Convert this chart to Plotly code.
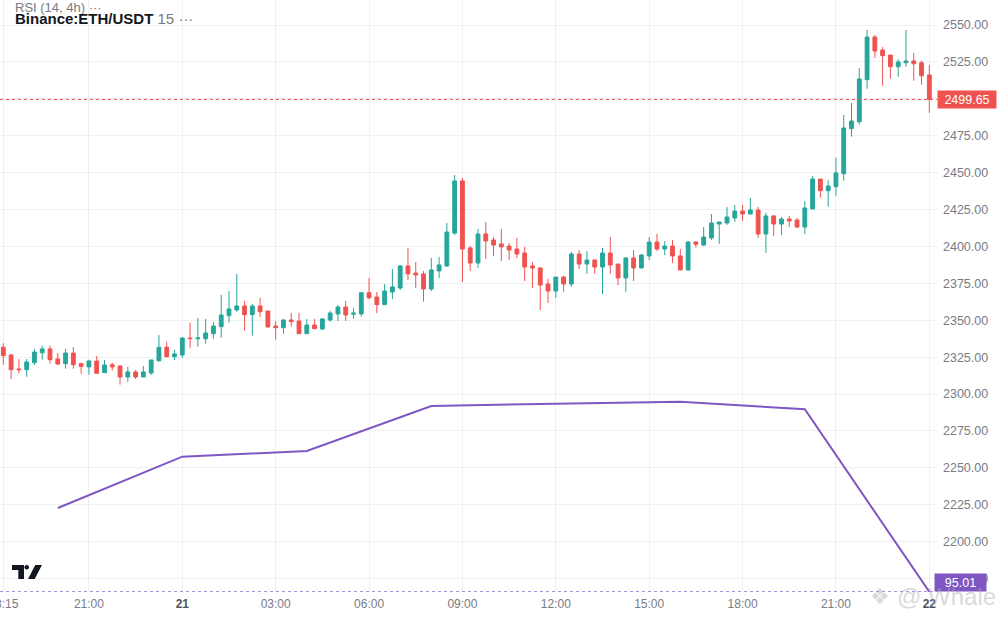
import pandas as pd
import plotly.graph_objects as go

# 15 minute candles, Binance ETH/USDT, 20th 18:15 -> 22nd 00:00
opens = [2331.7, 2326.5, 2317.0, 2316.5, 2321.3, 2328.0, 2330.6, 2323.8, 2320.6, 2327.8,
         2320.6, 2318.4, 2322.4, 2314.5, 2319.9, 2319.0, 2311.6, 2315.0, 2311.6, 2314.3,
         2322.6, 2331.7, 2325.3, 2326.5, 2338.0, 2337.5, 2337.5, 2340.9, 2345.7, 2353.1,
         2357.0, 2359.7, 2353.8, 2359.7, 2356.3, 2346.1, 2345.0, 2350.2, 2349.5, 2340.9,
         2346.8, 2344.1, 2350.2, 2354.3, 2359.0, 2354.1, 2354.3, 2368.7, 2365.8, 2360.6,
         2369.2, 2371.9, 2386.8, 2382.0, 2381.4, 2371.2, 2383.4, 2386.8, 2409.1, 2444.4,
         2399.0, 2388.8, 2408.5, 2404.4, 2401.7, 2400.3, 2398.3, 2395.6, 2386.8, 2385.4,
         2374.6, 2369.8, 2379.3, 2374.6, 2394.9, 2388.1, 2390.8, 2386.1, 2395.6, 2388.1,
         2378.7, 2392.2, 2385.4, 2393.6, 2403.0, 2398.3, 2400.3, 2393.6, 2384.1, 2403.0,
         2401.0, 2405.8, 2415.2, 2415.9, 2419.3, 2424.0, 2422.0, 2424.7, 2408.5, 2420.7,
         2415.2, 2418.6, 2417.9, 2413.2, 2425.4, 2445.7, 2437.8, 2440.5, 2449.3, 2479.8,
         2484.5, 2513.0, 2541.9, 2533.1, 2529.7, 2521.8, 2524.5, 2525.7, 2524.5, 2516.2]
highs = [2334.4, 2327.2, 2323.6, 2323.8, 2330.6, 2332.8, 2332.8, 2327.8, 2330.6, 2331.9,
         2321.3, 2323.3, 2325.8, 2323.1, 2321.3, 2319.7, 2318.4, 2316.3, 2319.0, 2323.1,
         2340.0, 2335.5, 2329.9, 2338.5, 2348.4, 2351.6, 2350.9, 2348.8, 2367.3, 2369.8,
         2381.4, 2363.1, 2361.0, 2365.1, 2356.3, 2349.5, 2350.7, 2355.1, 2355.1, 2350.9,
         2350.9, 2351.6, 2356.3, 2360.4, 2363.1, 2358.3, 2368.7, 2378.7, 2369.2, 2374.6,
         2384.8, 2387.5, 2399.0, 2389.5, 2383.4, 2392.2, 2392.9, 2415.9, 2448.4, 2446.4,
         2400.3, 2411.9, 2416.6, 2406.4, 2411.9, 2402.4, 2405.8, 2399.7, 2389.5, 2386.1,
         2378.0, 2379.3, 2380.0, 2396.3, 2397.6, 2396.9, 2391.5, 2399.0, 2406.4, 2388.1,
         2392.9, 2397.6, 2394.9, 2406.4, 2408.5, 2403.7, 2404.4, 2398.3, 2403.7, 2403.7,
         2413.2, 2422.0, 2416.6, 2426.8, 2428.1, 2428.1, 2432.9, 2426.8, 2422.7, 2421.3,
         2420.0, 2420.7, 2419.3, 2430.8, 2447.8, 2445.7, 2445.0, 2460.2, 2489.1, 2497.2,
         2520.9, 2546.7, 2543.3, 2535.2, 2529.7, 2527.0, 2546.7, 2531.1, 2525.9, 2523.0]
lows = [2319.9, 2310.2, 2313.8, 2311.8, 2319.7, 2323.3, 2320.6, 2319.7, 2317.2, 2317.2,
        2313.8, 2313.1, 2313.8, 2314.5, 2316.1, 2306.4, 2308.2, 2310.2, 2311.6, 2312.9,
        2322.0, 2324.9, 2323.1, 2324.5, 2331.4, 2332.1, 2334.1, 2337.5, 2338.2, 2348.4,
        2355.8, 2343.0, 2339.6, 2352.4, 2344.8, 2336.9, 2340.9, 2345.7, 2340.9, 2340.9,
        2344.3, 2343.6, 2349.0, 2349.5, 2349.5, 2350.9, 2352.4, 2364.0, 2354.9, 2360.6,
        2364.4, 2370.5, 2377.3, 2371.9, 2362.6, 2369.8, 2378.7, 2386.1, 2407.8, 2375.9,
        2383.4, 2385.4, 2391.5, 2393.6, 2390.2, 2390.8, 2392.2, 2376.6, 2371.9, 2357.0,
        2361.7, 2365.1, 2369.2, 2372.6, 2384.8, 2381.4, 2381.4, 2367.8, 2381.4, 2373.9,
        2369.2, 2376.6, 2385.4, 2390.8, 2396.9, 2394.2, 2388.8, 2384.1, 2383.4, 2399.2,
        2400.3, 2404.4, 2401.7, 2414.6, 2416.6, 2417.3, 2422.0, 2405.8, 2395.6, 2407.1,
        2407.8, 2413.2, 2412.5, 2408.5, 2425.4, 2433.1, 2427.0, 2434.4, 2444.6, 2474.4,
        2482.5, 2506.9, 2527.7, 2508.9, 2513.7, 2515.0, 2521.8, 2512.3, 2509.6, 2490.6]
closes = [2326.0, 2316.5, 2316.5, 2321.7, 2328.5, 2330.6, 2323.3, 2320.4, 2327.8, 2319.9,
          2318.8, 2322.4, 2314.1, 2319.7, 2318.4, 2311.6, 2315.0, 2311.6, 2315.0, 2323.1,
          2331.7, 2325.3, 2327.2, 2338.0, 2337.6, 2338.0, 2341.4, 2346.1, 2353.6, 2357.7,
          2359.7, 2353.8, 2359.7, 2355.8, 2345.5, 2345.0, 2350.2, 2349.1, 2340.9, 2346.8,
          2344.3, 2350.9, 2354.9, 2359.0, 2353.6, 2354.9, 2368.7, 2365.3, 2360.6, 2369.8,
          2372.6, 2386.8, 2381.4, 2380.7, 2371.2, 2384.1, 2387.5, 2409.8, 2444.4, 2398.3,
          2388.8, 2408.5, 2403.7, 2401.0, 2399.7, 2397.6, 2394.9, 2386.1, 2385.4, 2373.9,
          2369.8, 2379.3, 2374.6, 2394.9, 2388.1, 2390.8, 2386.1, 2395.6, 2387.5, 2378.7,
          2392.2, 2385.4, 2394.2, 2403.0, 2398.3, 2400.3, 2393.6, 2384.1, 2403.0, 2401.5,
          2406.4, 2415.9, 2416.6, 2420.0, 2424.0, 2422.0, 2424.7, 2408.5, 2420.7, 2415.2,
          2418.6, 2417.3, 2413.2, 2426.1, 2445.7, 2437.8, 2441.0, 2449.8, 2480.3, 2485.0,
          2513.5, 2541.9, 2532.4, 2529.3, 2521.8, 2525.0, 2525.7, 2523.8, 2515.7, 2499.65]

# RSI (14, 4h) overlay, drawn on the price scale as in the screenshot
rsi_times = ["2024-08-20 20:00", "2024-08-21 00:00", "2024-08-21 04:00", "2024-08-21 08:00",
             "2024-08-21 12:00", "2024-08-21 16:00", "2024-08-21 20:00", "2024-08-22 00:00"]
rsi_line = [2222.8, 2257.6, 2261.4, 2291.9, 2293.5, 2294.8, 2289.7, 2166.0]
rsi_last = "95.01"

tick_times = ["2024-08-20 18:15", "2024-08-20 21:00", "2024-08-21 00:00", "2024-08-21 03:00",
              "2024-08-21 06:00", "2024-08-21 09:00", "2024-08-21 12:00", "2024-08-21 15:00",
              "2024-08-21 18:00", "2024-08-21 21:00", "2024-08-22 00:00"]
tick_text = ["18:15", "21:00", "<b style='color:#50535e'>21</b>", "03:00", "06:00", "09:00",
             "12:00", "15:00", "18:00", "21:00", "<b style='color:#50535e'>22</b>"]

GREEN = "#26a69a"
RED = "#ef5350"
PURPLE = "#7e57c2"
GRID = "#eff0f3"
FONT = "Liberation Sans, Arial, sans-serif"

PLOT_W, PLOT_H = 937, 592   # plot area in pixels


def px(x, y):
    # pixel position inside the plot area -> paper coords
    return "%.5f,%.5f" % (x / PLOT_W, 1 - y / PLOT_H)


def main():
    times = pd.date_range("2024-08-20 18:15", periods=len(closes), freq="15min")

    fig = go.Figure()
    fig.add_trace(go.Candlestick(
        x=times, open=opens, high=highs, low=lows, close=closes,
        increasing=dict(line=dict(color=GREEN, width=1), fillcolor=GREEN),
        decreasing=dict(line=dict(color=RED, width=1), fillcolor=RED),
        whiskerwidth=0, showlegend=False, hoverinfo="skip"))
    fig.add_trace(go.Scatter(x=pd.to_datetime(rsi_times), y=rsi_line, mode="lines",
                             line=dict(color=PURPLE, width=2), showlegend=False,
                             hoverinfo="skip", cliponaxis=True))

    # last price / last RSI lines
    fig.add_shape(type="line", xref="paper", x0=0, x1=1, yref="y", y0=closes[-1], y1=closes[-1],
                  line=dict(color=RED, width=1, dash="dot"))
    fig.add_shape(type="line", xref="paper", x0=0, x1=1, yref="y", y0=rsi_line[-1], y1=rsi_line[-1],
                  line=dict(color=PURPLE, width=1, dash="dot"))

    # TradingView logo
    logo = ("M " + px(12, 565) + " L " + px(24, 565) + " L " + px(24, 579) + " L " + px(18.3, 579)
            + " L " + px(18.3, 570) + " L " + px(12, 570) + " Z "
            + "M " + px(28, 579) + " L " + px(35.3, 565) + " L " + px(42, 565) + " L " + px(34.7, 579) + " Z")
    fig.add_shape(type="path", xref="paper", yref="paper", path=logo,
                  fillcolor="#131722", line=dict(width=0))
    fig.add_shape(type="circle", xref="paper", yref="paper",
                  x0=24.5 / PLOT_W, x1=29 / PLOT_W, y0=1 - 569.5 / PLOT_H, y1=1 - 565 / PLOT_H,
                  fillcolor="#131722", line=dict(width=0))

    fig.add_annotation(xref="paper", x=1, xanchor="left", yref="y", y=closes[-1],
                       text="%.2f" % closes[-1], showarrow=False, bgcolor=RED,
                       font=dict(color="white", size=12.5, family=FONT),
                       width=54, height=13, borderpad=2)
    fig.add_annotation(xref="paper", x=1, xanchor="left", xshift=-3, yref="y", y=rsi_line[-1],
                       yanchor="bottom", text=rsi_last, showarrow=False, bgcolor=PURPLE,
                       font=dict(color="white", size=12.5, family=FONT),
                       width=47, height=13, borderpad=2)

    # header
    fig.add_annotation(xref="paper", yref="paper", x=13 / PLOT_W, y=1 - 8 / PLOT_H,
                       xanchor="left", yanchor="middle", showarrow=False,
                       text="RSI (14, 4h) \u00b7\u00b7\u00b7",
                       font=dict(size=13, color="#787b86", family=FONT))
    fig.add_annotation(xref="paper", yref="paper", x=13 / PLOT_W, y=1 - 18.5 / PLOT_H,
                       xanchor="left", yanchor="middle", showarrow=False,
                       text="<b>Binance:ETH/USDT</b> <span style='color:#787b86'>15 \u00b7\u00b7\u00b7</span>",
                       font=dict(size=15, color="#131722", family=FONT))

    # watermark
    fig.add_annotation(xref="paper", yref="paper", x=880 / PLOT_W, y=1 - 596 / PLOT_H,
                       xanchor="center", yanchor="middle", showarrow=False, text="\u2756",
                       font=dict(size=22, color="rgba(170,170,170,0.45)", family="DejaVu Sans"))
    fig.add_annotation(xref="paper", yref="paper", x=895 / PLOT_W, y=1 - 596 / PLOT_H,
                       xanchor="left", yanchor="middle", showarrow=False, text="@ Whale",
                       font=dict(size=24, color="rgba(170,170,170,0.45)", family=FONT))

    fig.update_layout(
        width=1000, height=620,
        margin=dict(l=0, r=63, t=0, b=28),
        paper_bgcolor="white", plot_bgcolor="white",
        font=dict(family=FONT, size=12, color="#787b86"),
        showlegend=False,
        xaxis=dict(
            type="date",
            range=["2024-08-20 18:08:36", "2024-08-22 00:14:48"],
            tickvals=pd.to_datetime(tick_times), ticktext=tick_text,
            showgrid=True, gridcolor=GRID, gridwidth=1,
            zeroline=False, showline=False, ticks="",
            ticklabeloverflow="allow", ticklabelstandoff=3,
            tickfont=dict(size=12, color="#787b86"),
            rangeslider=dict(visible=False), automargin=False, fixedrange=True),
        yaxis=dict(
            side="right", range=[2165.9, 2567.0],
            tick0=2175, dtick=25, tickformat=".2f",
            showgrid=True, gridcolor=GRID, gridwidth=1,
            zeroline=False, showline=False, ticks="",
            ticklabelstandoff=5,
            tickfont=dict(size=12.5, color="#787b86"),
            automargin=False, fixedrange=True),
    )

    # page body has a default margin; the chart should sit at the window's corner
    fig.write_html("out.html", config={"displayModeBar": False},
                   post_script="document.body.style.margin='0';")


if __name__ == "__main__":
    main()
